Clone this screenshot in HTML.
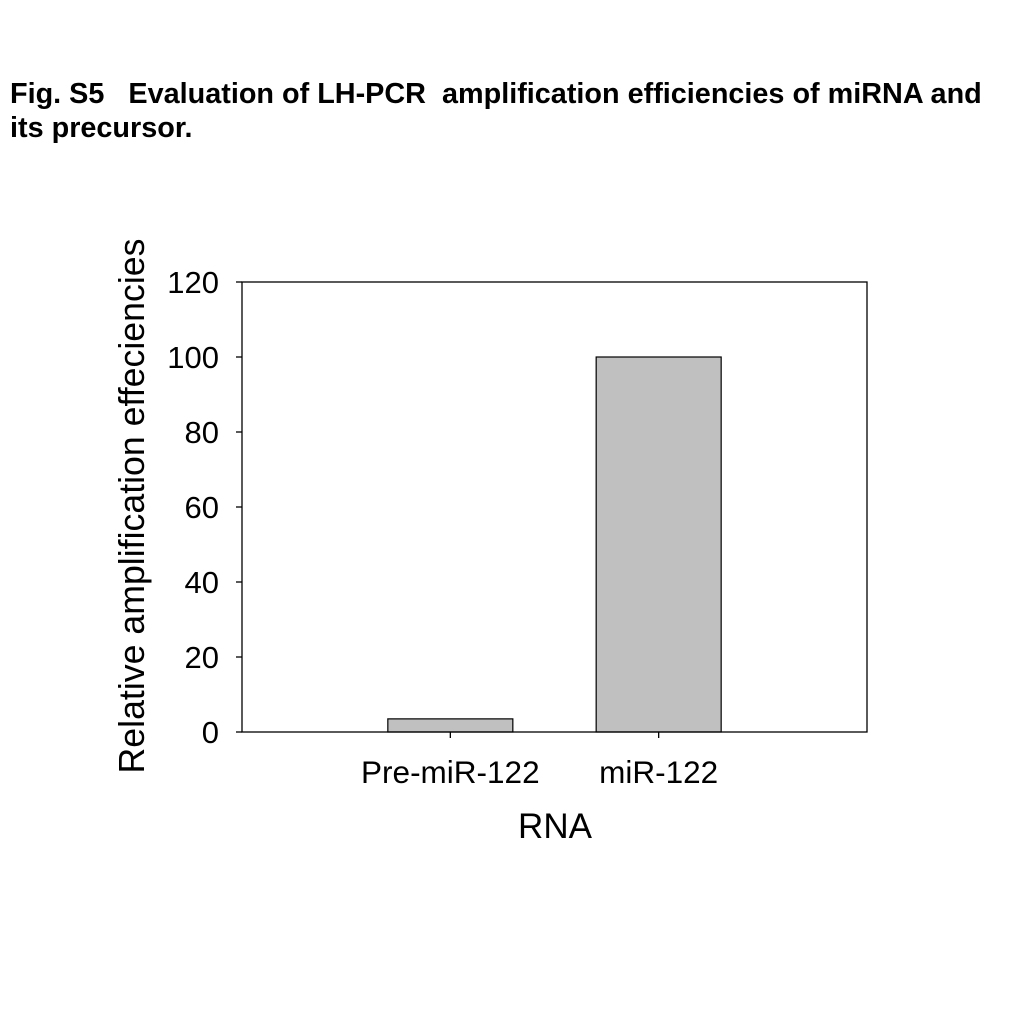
<!DOCTYPE html>
<html><head><meta charset="utf-8"><style>
body{margin:0;background:#fff;width:1024px;height:1024px;overflow:hidden;font-family:"Liberation Sans",Arial,sans-serif}
.title{position:absolute;left:10px;top:77px;font-size:28.8px;font-weight:bold;line-height:34px;color:#000;white-space:pre}
</style></head><body>
<div class="title">Fig. S5   Evaluation of LH-PCR  amplification efficiencies of miRNA and
its precursor.</div>
<svg id="chart" width="1024" height="1024" style="position:absolute;left:0;top:0" xmlns="http://www.w3.org/2000/svg"></svg>
<script>
const categories=["Pre-miR-122","miR-122"];
const values=[3.5,100];
const yTicks=[0,20,40,60,80,100,120];
const NS="http://www.w3.org/2000/svg";
const svg=document.getElementById('chart');
const L=242,R=867,T=282,B=732,yMax=120;
const y=v=>B-(v/yMax)*(B-T);
const slot=(R-L)/(categories.length+1);
const x=i=>L+slot*(i+1);
const bw=slot*0.6;
function mk(tag,attrs,txt){const e=document.createElementNS(NS,tag);for(const k in attrs)e.setAttribute(k,attrs[k]);if(txt!==undefined)e.textContent=txt;svg.appendChild(e);return e;}
values.forEach((v,i)=>{
  const r=mk('rect',{x:x(i)-bw/2,y:y(v),width:bw,height:B-y(v),fill:'#c0c0c0',stroke:'#000','stroke-width':1.2});
  
  
});
const f=mk('rect',{x:L,y:T,width:R-L,height:B-T,fill:'none',stroke:'#000','stroke-width':1.3});


yTicks.forEach(t=>{
  const l=mk('line',{x1:L-6,x2:L,y1:y(t),y2:y(t),stroke:'#000','stroke-width':1.3});
  
  
  const tx=mk('text',{x:L-23,y:y(t)+11,'text-anchor':'end','font-size':31,'font-family':'Liberation Sans, sans-serif'},t);
  
  
});
categories.forEach((c,i)=>{
  const l=mk('line',{x1:x(i),x2:x(i),y1:B,y2:B+6,stroke:'#000','stroke-width':1.3});
  
  
  const tx=mk('text',{x:x(i),y:783,'text-anchor':'middle','font-size':31.5,'font-family':'Liberation Sans, sans-serif'},c);
  
  
});
const xt=mk('text',{x:555,y:838,'text-anchor':'middle','font-size':35,'font-family':'Liberation Sans, sans-serif'},'RNA');


const yt=mk('text',{x:0,y:0,'text-anchor':'middle','font-size':35.7,'font-family':'Liberation Sans, sans-serif',transform:'translate(144,506) rotate(-90)'},'Relative amplification effeciencies');


</script>
</body></html>
